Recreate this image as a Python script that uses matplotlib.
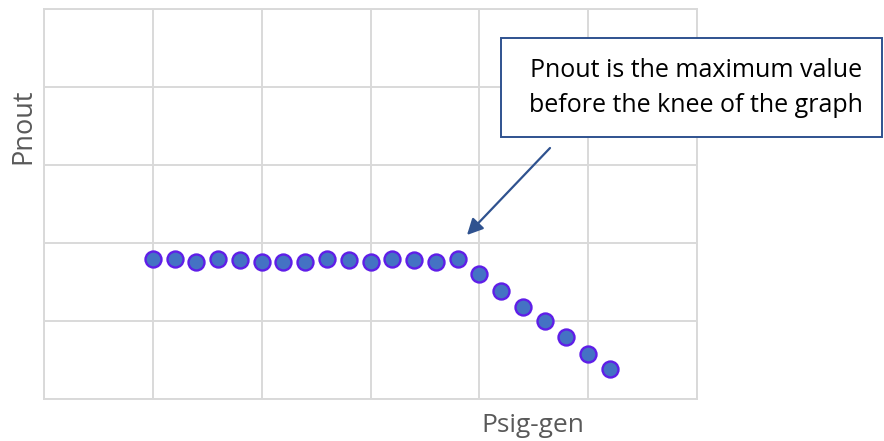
import matplotlib.pyplot as plt
from matplotlib.patches import Rectangle

# Psig-gen steps and measured Pnout (arbitrary units, grid of 6 x 5)
psig = [1.0, 1.2, 1.4, 1.6, 1.8, 2.0, 2.2, 2.4, 2.6, 2.8, 3.0, 3.2, 3.4, 3.6, 3.8,
        4.0, 4.2, 4.4, 4.6, 4.8, 5.0, 5.2]
pnout = [1.79, 1.79, 1.76, 1.79, 1.78, 1.76, 1.76, 1.76, 1.79, 1.78, 1.76, 1.79, 1.78, 1.76, 1.79,
         1.60, 1.39, 1.18, 1.00, 0.79, 0.58, 0.39]

note = 'Pnout is the maximum value\nbefore the knee of the graph'

W, H = 884, 441
fig = plt.figure(figsize=(W / 100, H / 100), dpi=100)
ax = fig.add_axes([44 / W, 1 - 399 / H, (697 - 44) / W, (399 - 9) / H])

grid_c = '#d9d9d9'
ax.set_xlim(0, 6)
ax.set_ylim(0, 5)
ax.set_xticks(range(7))
ax.set_yticks(range(6))
ax.tick_params(length=0, labelbottom=False, labelleft=False)
ax.grid(True, color=grid_c, linewidth=1.4)
for s in ax.spines.values():
    s.set_color(grid_c)
    s.set_linewidth(1.4)

ax.plot(psig, pnout, 'o', markersize=11.5, markerfacecolor='#4472c4',
        markeredgecolor='#5f1ee8', markeredgewidth=1.7, clip_on=False, zorder=3)

gray = '#595959'
fig.text(23 / W, 1 - 126 / H, 'Pnout', rotation=90, ha='center', va='center',
         fontsize=19.5, color=gray, family='Open Sans')
fig.text(533 / W, 1 - 425 / H, 'Psig-gen', ha='center', va='center',
         fontsize=19, color=gray, family='Open Sans')

# callout box
box_c = '#2f528f'
fig.add_artist(Rectangle((501 / W, 1 - 137 / H), (882 - 501) / W, (137 - 38) / H,
                         transform=fig.transFigure, facecolor='white',
                         edgecolor=box_c, linewidth=1.4, zorder=5))
fig.text(696 / W, 1 - 88 / H, note, ha='center', va='center', multialignment='center',
         fontsize=18, linespacing=1.5, family='Open Sans', color='black', zorder=6)

ax.annotate('', xy=(467 / W, 1 - 235 / H), xycoords='figure fraction',
            xytext=(550 / W, 1 - 148 / H), textcoords='figure fraction',
            arrowprops=dict(arrowstyle='-|>', color=box_c, lw=1.6,
                            mutation_scale=24, shrinkA=0, shrinkB=0))

fig.savefig('out.png', dpi=100)
